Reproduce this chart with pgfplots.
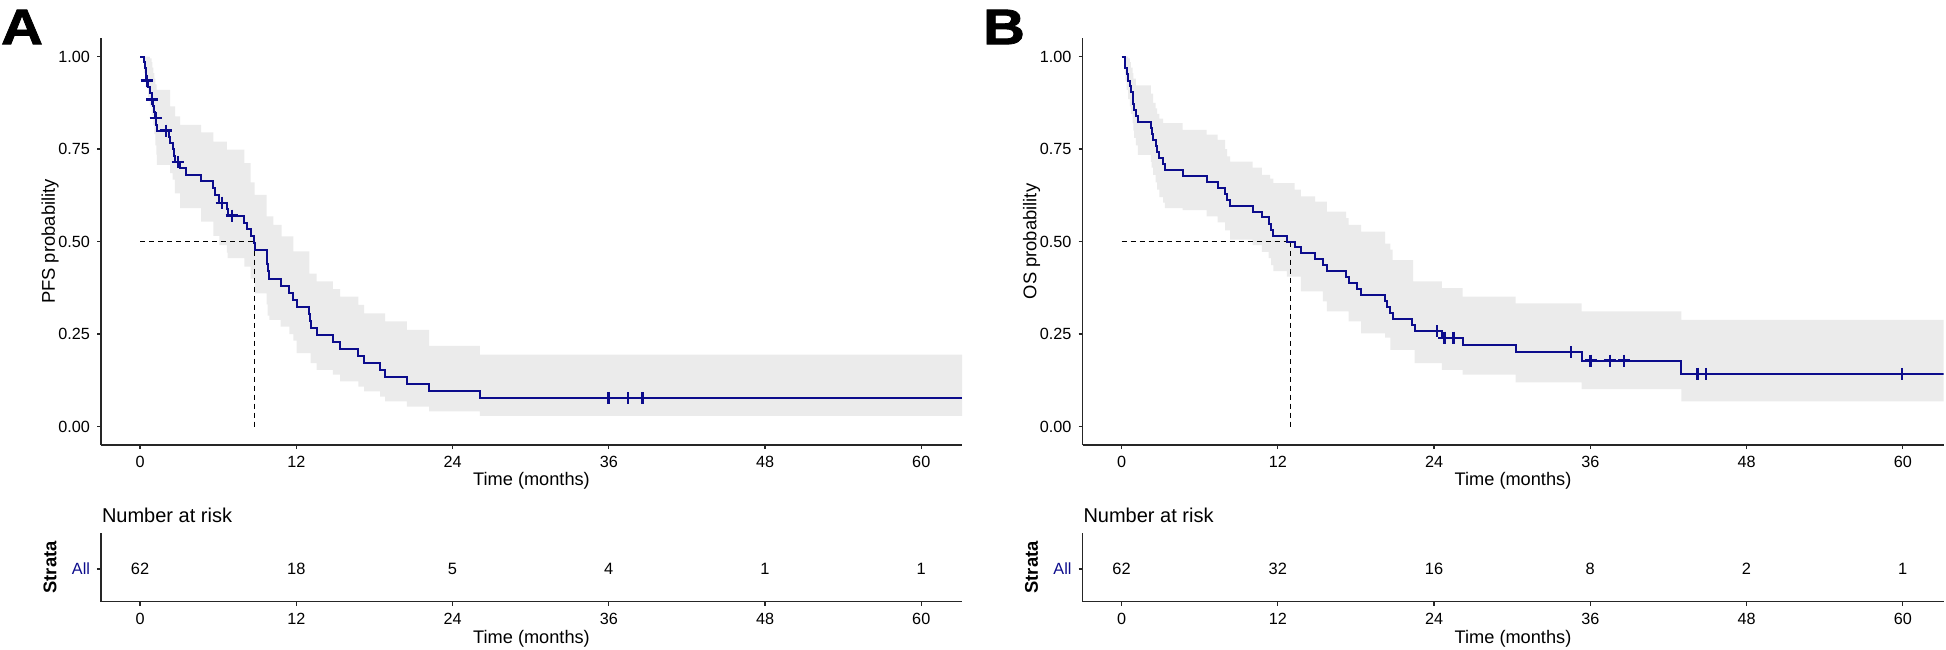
\documentclass[border=0pt]{standalone}
\usepackage{fontspec}
\setmainfont{Liberation Sans}
\newfontfamily\panelfont{Liberation Sans}[BoldFeatures={FakeBold=1.6,FakeStretch=1.16}]
\usepackage{pgfplots}
\pgfplotsset{compat=1.18}
\usepgfplotslibrary{fillbetween}
\definecolor{kmblue}{RGB}{12,12,140}
\definecolor{band}{RGB}{235,235,235}
\pgfplotsset{
  common/.style={scale only axis, width=430.5bp, xmin=-3, xmax=63.13,
    axis x line*=bottom, axis y line*=left,
    axis line style={-, line width=0.6bp, black!85},
    tick align=outside, major tick length=2bp,
    tick style={line width=0.6bp, black!85},
    xtick={0,12,24,36,48,60}, xticklabels={0,12,24,36,48,60},
    ticklabel style={font=\fontsize{8.1bp}{9.7bp}\selectfont, text=black}},
  kmaxis/.style={common, height=203.5bp, ymin=-0.05, ymax=1.05,
    ytick={0,0.25,0.5,0.75,1}, yticklabels={0.00,0.25,0.50,0.75,1.00}},
  riskaxis/.style={common, height=34.35bp, ymin=0, ymax=1,
    ytick={0.475}, yticklabels={\textcolor{kmblue}{All}}},
  curve/.style={const plot, kmblue, line width=1bp},
  cens/.style={only marks, mark=+, mark size=3bp, kmblue, mark options={line width=1.15bp}},
  med/.style={black, line width=0.5bp, dash pattern=on 2.5bp off 2bp},
  risknum/.style={draw=none, nodes near coords, point meta=explicit symbolic,
    every node near coord/.append style={font=\fontsize{8.2bp}{9.8bp}\selectfont, anchor=center, text=black}},
}
\begin{document}
\begin{tikzpicture}
% ---------------- Panel A ----------------
\begin{axis}[kmaxis, at={(50.5bp,-222.5bp)}, anchor=south west]
\addplot[name path=upA, const plot, draw=none] coordinates {
(0,1.000) (0.75,0.995) (0.88,0.985) (0.95,0.970) (1.02,0.955) (1.10,0.940) (1.17,0.925)
(1.28,0.910) (2.30,0.865) (2.69,0.838) (3.07,0.815) (4.69,0.795) (5.63,0.770)
(6.66,0.748) (8.01,0.712) (8.50,0.660) (8.80,0.626) (9.73,0.568) (10.24,0.545)
(10.88,0.514) (11.77,0.473) (13.00,0.413) (13.57,0.392) (14.80,0.371) (15.36,0.351)
(16.77,0.329) (17.21,0.306) (18.82,0.284) (20.50,0.261) (22.20,0.218) (26.10,0.194) (63.13,0.194)};
\addplot[name path=loA, const plot, draw=none] coordinates {
(0,1.000) (0.30,0.955) (0.40,0.935) (0.45,0.915) (0.62,0.890) (0.75,0.865) (0.88,0.840)
(1.02,0.815) (1.10,0.790) (1.17,0.760) (1.25,0.735) (1.30,0.707) (2.30,0.685) (2.51,0.667)
(2.68,0.630) (3.07,0.590) (4.69,0.554) (5.63,0.515) (6.10,0.490) (6.66,0.470) (6.72,0.455)
(8.01,0.432) (8.50,0.400) (8.80,0.360) (9.73,0.330) (9.80,0.300) (9.93,0.288) (10.80,0.270)
(11.47,0.250) (11.78,0.232) (12.03,0.198) (13.10,0.171) (13.57,0.153) (14.80,0.140)
(15.36,0.122) (16.77,0.108) (17.21,0.095) (18.43,0.081) (18.82,0.068) (20.50,0.054)
(22.20,0.041) (26.10,0.029) (63.13,0.029)};
\addplot[band, draw=none] fill between[of=upA and loA];
\addplot[med] coordinates {(0,0.5) (8.78,0.5)};
\addplot[med] coordinates {(8.78,0.5) (8.78,0)};
\addplot[curve] coordinates {
(0,1.000) (0.30,0.984) (0.40,0.968) (0.45,0.952) (0.48,0.935) (0.62,0.918) (0.75,0.901)
(0.88,0.884) (1.02,0.867) (1.10,0.850) (1.17,0.833) (1.25,0.816) (1.30,0.800) (2.25,0.783)
(2.30,0.766) (2.51,0.749) (2.60,0.732) (2.68,0.715) (3.07,0.698) (3.51,0.681) (4.69,0.663)
(5.63,0.645) (5.76,0.627) (6.10,0.605) (6.66,0.588) (6.72,0.570) (8.01,0.551) (8.24,0.533)
(8.50,0.514) (8.78,0.495) (8.80,0.476) (9.73,0.457) (9.76,0.438) (9.80,0.419) (9.93,0.400)
(10.80,0.381) (11.47,0.362) (11.78,0.343) (12.03,0.324) (13.00,0.305) (13.05,0.286)
(13.10,0.267) (13.57,0.248) (14.80,0.229) (15.36,0.210) (16.77,0.191) (17.21,0.172)
(18.43,0.153) (18.82,0.134) (20.50,0.115) (22.20,0.096) (26.10,0.077) (63.13,0.077)};
\addplot[cens] coordinates {(0.51,0.935) (0.92,0.884) (1.20,0.833) (1.97,0.800) (2.89,0.715)
(6.27,0.605) (7.04,0.570) (35.97,0.077) (37.45,0.077) (38.60,0.077)};
\end{axis}
\begin{axis}[riskaxis, at={(50.5bp,-300.85bp)}, anchor=south west]
\addplot[risknum] coordinates {(0,0.475)[62] (12,0.475)[18] (24,0.475)[5] (36,0.475)[4] (48,0.475)[1] (60,0.475)[1]};
\end{axis}
% ---------------- Panel B ----------------
\begin{axis}[kmaxis, at={(541.25bp,-222.5bp)}, anchor=south west]
\addplot[name path=upB, const plot, draw=none] coordinates {
(0,1.000) (0.50,0.995) (0.64,0.985) (0.72,0.970) (0.84,0.955) (0.90,0.940) (1.10,0.922)
(2.25,0.900) (2.43,0.875) (2.61,0.860) (2.74,0.845) (2.90,0.832) (3.20,0.820) (4.69,0.802)
(6.54,0.789) (7.38,0.775) (7.95,0.750) (8.10,0.730) (8.33,0.716) (10.07,0.700) (10.77,0.680)
(11.40,0.670) (11.66,0.658) (13.30,0.640) (13.77,0.622) (14.86,0.608) (15.77,0.581)
(17.25,0.563) (17.43,0.545) (18.40,0.527) (20.25,0.494) (20.64,0.478) (20.82,0.450)
(22.40,0.392) (24.60,0.374) (26.20,0.351) (30.26,0.333) (35.33,0.311) (43.00,0.288) (63.13,0.288)};
\addplot[name path=loB, const plot, draw=none] coordinates {
(0,1.000) (0.25,0.955) (0.30,0.935) (0.38,0.910) (0.51,0.885) (0.64,0.865) (0.72,0.845)
(0.84,0.820) (0.90,0.800) (0.97,0.780) (1.10,0.760) (1.25,0.734) (2.25,0.715) (2.30,0.700)
(2.43,0.680) (2.61,0.660) (2.74,0.640) (2.90,0.620) (3.20,0.605) (3.33,0.590) (4.69,0.585)
(6.54,0.568) (7.38,0.552) (7.95,0.530) (8.33,0.505) (10.07,0.490) (10.77,0.472) (11.30,0.455)
(11.48,0.436) (11.66,0.420) (12.70,0.405) (13.77,0.365) (15.46,0.338) (15.77,0.311)
(17.43,0.284) (18.40,0.252) (20.25,0.240) (20.64,0.207) (22.50,0.171) (24.60,0.153)
(26.20,0.140) (30.26,0.119) (35.33,0.101) (43.00,0.068) (63.13,0.068)};
\addplot[band, draw=none] fill between[of=upB and loB];
\addplot[med] coordinates {(0,0.5) (13.0,0.5)};
\addplot[med] coordinates {(13.0,0.5) (13.0,0)};
\addplot[curve] coordinates {
(0,1.000) (0.25,0.984) (0.30,0.968) (0.38,0.952) (0.51,0.935) (0.64,0.919) (0.72,0.903)
(0.84,0.887) (0.90,0.871) (0.97,0.855) (1.10,0.839) (1.25,0.823) (2.25,0.806) (2.30,0.790)
(2.43,0.774) (2.61,0.758) (2.74,0.742) (2.90,0.726) (3.20,0.710) (3.33,0.694) (4.69,0.677)
(6.54,0.661) (7.38,0.645) (7.95,0.629) (8.10,0.613) (8.33,0.597) (10.07,0.581) (10.77,0.565)
(11.30,0.548) (11.48,0.532) (11.66,0.516) (12.70,0.500) (13.30,0.484) (13.77,0.468)
(14.86,0.452) (15.46,0.436) (15.77,0.419) (17.25,0.403) (17.43,0.387) (18.07,0.371)
(18.40,0.355) (20.25,0.339) (20.40,0.323) (20.64,0.307) (20.82,0.290) (22.30,0.274)
(22.50,0.258) (24.60,0.240) (26.20,0.221) (30.26,0.201) (35.33,0.178) (43.00,0.142) (63.13,0.142)};
\addplot[cens] coordinates {(24.25,0.258) (24.80,0.240) (25.50,0.240) (34.50,0.201) (36.02,0.178)
(37.51,0.178) (38.59,0.178) (44.23,0.142) (44.87,0.142) (59.95,0.142)};
\end{axis}
\begin{axis}[riskaxis, at={(541.25bp,-300.85bp)}, anchor=south west]
\addplot[risknum] coordinates {(0,0.475)[62] (12,0.475)[32] (24,0.475)[16] (36,0.475)[8] (48,0.475)[2] (60,0.475)[1]};
\end{axis}
% ---------------- Labels ----------------
\node[inner sep=0, font=\fontsize{25bp}{30bp}\panelfont\bfseries] at (11bp,-13.5bp) {A};
\node[inner sep=0, font=\fontsize{25bp}{30bp}\panelfont\bfseries] at (502bp,-13.5bp) {B};
\node[rotate=90, font=\fontsize{9.2bp}{11bp}\selectfont] at (25bp,-120.75bp) {PFS probability};
\node[rotate=90, font=\fontsize{9.2bp}{11bp}\selectfont] at (515.75bp,-120.75bp) {OS probability};
\node[font=\fontsize{9.1bp}{11bp}\selectfont] at (265.75bp,-240.5bp) {Time (months)};
\node[font=\fontsize{9.1bp}{11bp}\selectfont] at (756.5bp,-240.5bp) {Time (months)};
\node[anchor=base west, inner sep=0, font=\fontsize{10bp}{12bp}\selectfont] at (50.8bp,-261.2bp) {Number at risk};
\node[anchor=base west, inner sep=0, font=\fontsize{10bp}{12bp}\selectfont] at (541.55bp,-261.2bp) {Number at risk};
\node[rotate=90, font=\fontsize{9.2bp}{11bp}\bfseries\selectfont] at (25bp,-283.7bp) {Strata};
\node[rotate=90, font=\fontsize{9.2bp}{11bp}\bfseries\selectfont] at (515.75bp,-283.7bp) {Strata};
\node[font=\fontsize{9.1bp}{11bp}\selectfont] at (265.75bp,-319.15bp) {Time (months)};
\node[font=\fontsize{9.1bp}{11bp}\selectfont] at (756.5bp,-319.15bp) {Time (months)};
\pgfresetboundingbox
\useasboundingbox (0,0) rectangle (973bp,-325bp);
\end{tikzpicture}
\end{document}
